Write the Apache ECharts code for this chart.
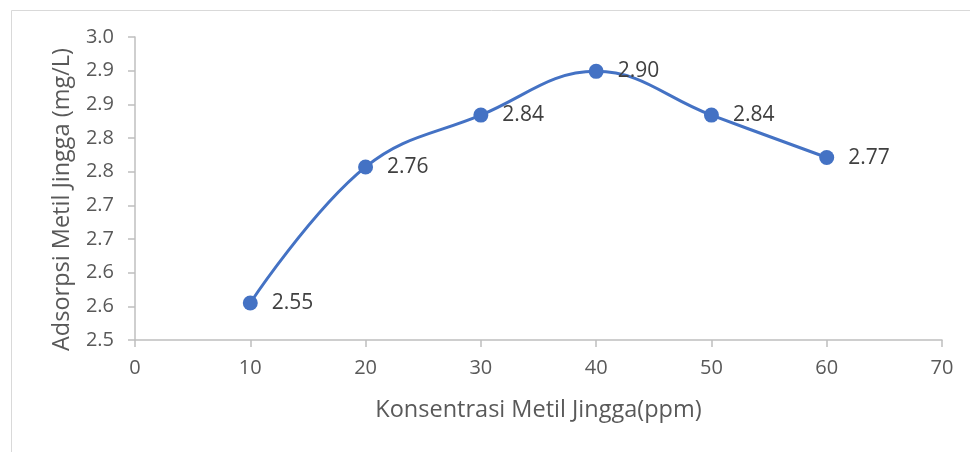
<!DOCTYPE html>
<html>
<head>
<meta charset="utf-8">
<script src="https://cdn.jsdelivr.net/npm/echarts@6/dist/echarts.min.js"></script>
<style>html,body{margin:0;padding:0;background:#fff}#c{width:970px;height:452px}</style>
</head>
<body>
<div id="c"></div>
<script>
var xValues = [10, 20, 30, 40, 50, 60];
var yValues = [2.555, 2.757, 2.834, 2.899, 2.834, 2.771];
var pointLabels = ['2.55', '2.76', '2.84', '2.90', '2.84', '2.77'];
var yTickLabels = ['2.5', '2.6', '2.6', '2.7', '2.7', '2.8', '2.8', '2.9', '2.9', '3.0'];
var xTitle = 'Konsentrasi Metil Jingga(ppm)';
var yTitle = 'Adsorpsi Metil Jingga (mg/L)';

var chart = echarts.init(document.getElementById('c'), null, {renderer: 'canvas'});
var FONT = '"Open Sans", "Noto Sans", sans-serif';
chart.setOption({
  animation: false,
  backgroundColor: '#fff',
  graphic: [{
    type: 'rect', left: 9, top: 8, shape: {width: 980, height: 460},
    style: {fill: 'none', stroke: '#D9D9D9', lineWidth: 1}
  }],
  grid: {left: 135, right: 28, top: 37, bottom: 112},
  xAxis: {
    type: 'value', min: 0, max: 70, interval: 10,
    name: xTitle, nameLocation: 'middle', nameGap: 58,
    nameTextStyle: {color: '#595959', fontSize: 23.5, fontFamily: FONT},
    axisLine: {show: true, lineStyle: {color: '#BFBFBF', width: 1.5}},
    axisTick: {show: true, length: 7, lineStyle: {color: '#BFBFBF', width: 1.5}},
    axisLabel: {color: '#595959', fontSize: 20, fontFamily: FONT, margin: 18},
    splitLine: {show: false}
  },
  yAxis: {
    type: 'value', min: 2.5, max: 2.95, interval: 0.05,
    name: yTitle, nameLocation: 'middle', nameGap: 61,
    nameTextStyle: {color: '#595959', fontSize: 23.5, fontFamily: FONT, padding: [0, 22, 0, 0]},
    axisLine: {show: true, lineStyle: {color: '#BFBFBF', width: 1.5}},
    axisTick: {show: true, length: 7, lineStyle: {color: '#BFBFBF', width: 1.5}},
    axisLabel: {
      color: '#595959', fontSize: 20, fontFamily: FONT, margin: 21,
      formatter: function (v) { return yTickLabels[Math.round((v - 2.5) / 0.05)]; }
    },
    splitLine: {show: false}
  },
  series: [{
    type: 'line',
    data: xValues.map(function (x, i) { return [x, yValues[i]]; }),
    smooth: 0.4,
    symbol: 'circle', symbolSize: 15,
    itemStyle: {color: '#4472C4'},
    lineStyle: {color: '#4472C4', width: 3},
    label: {
      show: true, position: 'right', distance: 14,
      color: '#404040', fontSize: 21, fontFamily: FONT,
      formatter: function (p) { return pointLabels[p.dataIndex]; }
    }
  }]
});
</script>
</body>
</html>
